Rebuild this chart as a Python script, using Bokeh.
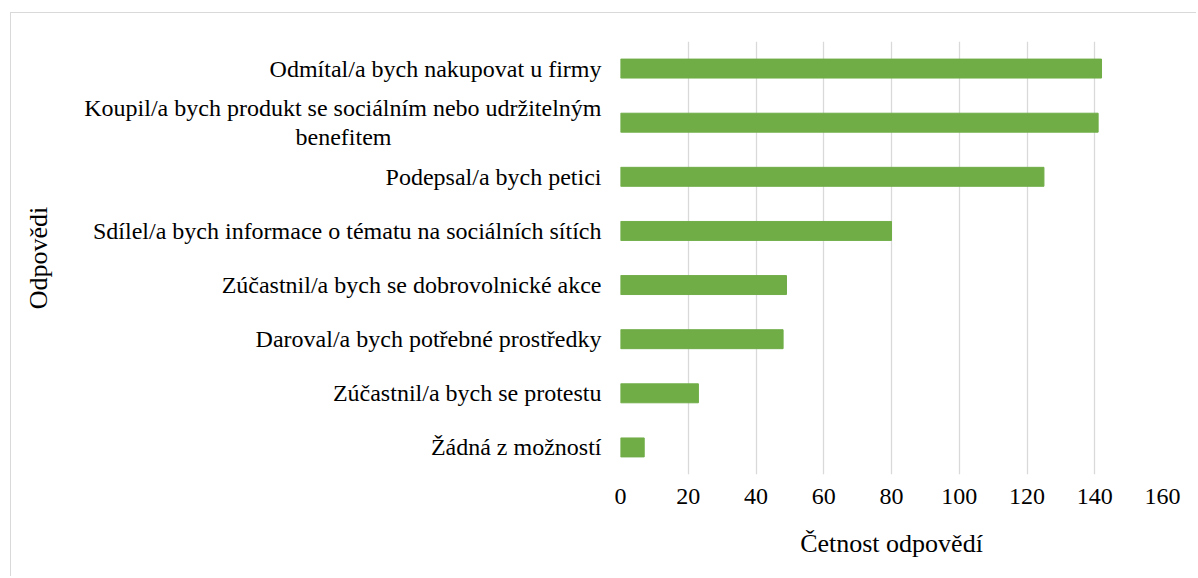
from bokeh.plotting import figure
from bokeh.models import Range1d, FixedTicker
from bokeh.embed import file_html
from bokeh.resources import INLINE

NBSP = "\u00a0"
categories = [
    "Odmítal/a bych nakupovat u firmy",
    "Koupil/a bych produkt se sociálním nebo udržitelným\nbenefitem" + NBSP * 35,
    "Podepsal/a bych petici",
    "Sdílel/a bych informace o tématu na sociálních sítích",
    "Zúčastnil/a bych se dobrovolnické akce",
    "Daroval/a bych potřebné prostředky",
    "Zúčastnil/a bych se protestu",
    "Žádná z možností",
]
values = [142, 141, 125, 80, 49, 48, 23, 7]
x_ticks = [0, 20, 40, 60, 80, 100, 120, 140, 160]

FONT = "Liberation Serif"

p = figure(
    y_range=list(reversed(categories)),
    x_range=Range1d(0, 160),
    width=1186, height=564,
    output_backend="svg", toolbar_location=None,
    min_border_left=609, min_border_right=35,
    min_border_top=28, min_border_bottom=103,
)
p.margin = (12, 0, 0, 10)
p.styles = {"border-top": "1px solid #D9D9D9", "border-left": "1px solid #D9D9D9"}

p.hbar(y=categories, right=values, height=0.35, left=0,
       fill_color="#70AD47", line_color="#70AD47")

p.outline_line_color = None
p.background_fill_color = "white"
p.border_fill_color = "white"

p.xaxis.ticker = FixedTicker(ticks=x_ticks)
p.xgrid.grid_line_color = "#D9D9D9"
p.xgrid.grid_line_width = 1.3
p.ygrid.grid_line_color = None

for ax in (p.xaxis[0], p.yaxis[0]):
    ax.axis_line_color = None
    ax.major_tick_line_color = None
    ax.minor_tick_line_color = None
    ax.major_label_text_font = FONT
    ax.major_label_text_font_size = "24px"
    ax.major_label_text_color = "#000000"
    ax.axis_label_text_font = FONT
    ax.axis_label_text_font_size = "26px"
    ax.axis_label_text_font_style = "normal"
    ax.axis_label_text_color = "#000000"

p.xaxis.axis_label = "Četnost odpovědí"
p.yaxis.axis_label = "Odpovědi"
p.xaxis.major_label_standoff = 8
p.xaxis.axis_label_standoff = 22
p.yaxis.major_label_standoff = 13
p.yaxis.axis_label_standoff = 28
p.yaxis.major_label_text_line_height = 1.1

open("out.html", "w").write(file_html(p, INLINE))
